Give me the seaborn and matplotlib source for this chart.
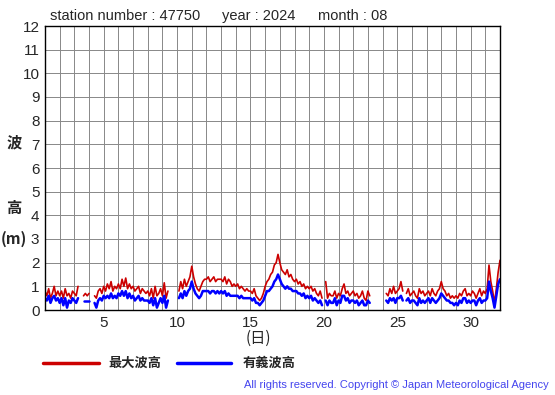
import numpy as np
import pandas as pd
import matplotlib
matplotlib.use("Agg")
import matplotlib.pyplot as plt
import seaborn as sns

nan = np.nan

# 3-hourly wave heights (m), one row per day of August 2024
hmax_rows = [
    [0.8, 0.6, 0.9, 0.5, 0.7, 1.0, 0.6, 0.8],
    [0.6, 0.8, 0.5, 0.9, 0.6, 0.7, 0.5, 0.8],
    [0.7, 0.6, 1.0, nan, nan, 0.6, 0.7, 0.6],
    [0.7, nan, nan, 0.6, 0.5, 0.8, 0.9, 0.7],
    [1.0, 0.8, 1.1, 0.9, 1.2, 0.8, 1.0, 0.9],
    [1.1, 0.9, 1.3, 1.0, 1.35, 0.9, 1.1, 0.9],
    [1.0, 0.8, 0.9, 1.0, 0.7, 0.9, 0.8, 0.7],
    [0.8, 0.6, 0.9, 0.5, 1.0, 0.6, 0.7, 0.9],
    [0.6, 1.15, 0.5, 0.8, nan, 0.6, nan, nan],
    [nan, 0.8, 1.2, 0.9, 1.3, 1.0, 1.2, 1.4],
    [1.85, 1.4, 1.1, 0.9, 0.8, 1.0, 1.2, 1.3],
    [1.3, 1.4, 1.2, 1.3, 1.4, 1.2, 1.3, 1.3],
    [1.3, 1.2, 1.4, 1.1, 1.3, 1.2, 1.0, 1.1],
    [1.0, 1.1, 0.9, 1.0, 0.9, 0.8, 0.9, 0.8],
    [0.8, 0.7, 0.9, 0.6, 0.5, 0.4, 0.5, 0.7],
    [1.0, 1.2, 1.3, 1.5, 1.6, 1.9, 2.0, 2.35],
    [2.0, 1.7, 1.6, 1.5, 1.7, 1.4, 1.5, 1.3],
    [1.2, 1.3, 1.1, 1.2, 1.0, 1.1, 0.9, 1.0],
    [0.9, 1.0, 0.8, 0.9, 0.7, 0.6, 0.8, 0.5],
    [nan, 1.2, 0.5, 0.7, 0.6, 0.6, 0.8, 0.5],
    [0.7, 0.6, 0.9, 1.1, 0.7, 0.8, 0.6, 0.7],
    [0.8, 0.6, 0.7, 0.5, 0.6, 0.8, 0.5, 0.4],
    [0.8, 0.6, nan, nan, nan, nan, nan, nan],
    [nan, nan, 0.7, 0.6, 0.9, 0.7, 1.0, 0.7],
    [0.8, 0.9, 1.2, 0.8, nan, 0.7, 0.9, 0.6],
    [0.7, 0.8, 0.6, 0.5, 0.9, 0.7, 0.8, 0.6],
    [0.7, 0.8, 0.6, 0.9, 0.7, 0.6, 0.8, 0.9],
    [1.2, 0.9, 0.8, 0.6, 0.7, 0.5, 0.6, 0.5],
    [0.6, 0.5, 0.7, 0.6, 0.8, 0.9, 0.6, 0.7],
    [0.6, 0.8, 0.7, 0.5, 0.7, 0.9, 0.6, 0.8],
    [0.7, 0.9, 1.9, 1.2, 0.8, 0.3, 0.9, 1.6],
    [2.1],
]
hsig_rows = [
    [0.5, 0.4, 0.6, 0.3, 0.5, 0.6, 0.4, 0.5],
    [0.3, 0.5, 0.2, 0.5, 0.1, 0.4, 0.3, 0.5],
    [0.4, 0.3, 0.5, nan, nan, 0.4, 0.4, 0.4],
    [0.4, nan, nan, 0.3, 0.1, 0.4, 0.5, 0.4],
    [0.6, 0.5, 0.6, 0.5, 0.7, 0.5, 0.6, 0.5],
    [0.7, 0.6, 0.8, 0.6, 0.8, 0.5, 0.7, 0.5],
    [0.6, 0.4, 0.5, 0.6, 0.4, 0.5, 0.4, 0.4],
    [0.4, 0.3, 0.5, 0.2, 0.5, 0.1, 0.3, 0.5],
    [0.3, 0.6, 0.1, 0.4, nan, 0.3, nan, nan],
    [nan, 0.5, 0.7, 0.5, 0.8, 0.6, 0.8, 0.9],
    [1.2, 0.9, 0.7, 0.6, 0.5, 0.6, 0.8, 0.8],
    [0.8, 0.8, 0.7, 0.8, 0.8, 0.7, 0.8, 0.7],
    [0.8, 0.7, 0.8, 0.6, 0.7, 0.6, 0.6, 0.6],
    [0.6, 0.6, 0.5, 0.6, 0.5, 0.5, 0.5, 0.5],
    [0.5, 0.4, 0.5, 0.3, 0.3, 0.2, 0.3, 0.4],
    [0.6, 0.8, 0.8, 0.9, 1.0, 1.2, 1.3, 1.5],
    [1.3, 1.1, 1.0, 0.9, 1.0, 0.9, 0.9, 0.8],
    [0.8, 0.8, 0.7, 0.7, 0.6, 0.7, 0.5, 0.6],
    [0.5, 0.6, 0.4, 0.5, 0.4, 0.3, 0.4, 0.2],
    [nan, 0.4, 0.2, 0.4, 0.3, 0.3, 0.5, 0.2],
    [0.4, 0.3, 0.6, 0.6, 0.4, 0.5, 0.3, 0.4],
    [0.4, 0.3, 0.4, 0.2, 0.3, 0.4, 0.2, 0.2],
    [0.4, 0.3, nan, nan, nan, nan, nan, nan],
    [nan, nan, 0.4, 0.3, 0.5, 0.4, 0.5, 0.3],
    [0.5, 0.5, 0.6, 0.4, nan, 0.4, 0.5, 0.3],
    [0.4, 0.4, 0.3, 0.2, 0.5, 0.3, 0.4, 0.3],
    [0.4, 0.5, 0.3, 0.5, 0.4, 0.3, 0.4, 0.5],
    [0.7, 0.6, 0.5, 0.4, 0.4, 0.3, 0.3, 0.2],
    [0.3, 0.2, 0.4, 0.3, 0.5, 0.5, 0.3, 0.4],
    [0.3, 0.4, 0.4, 0.2, 0.4, 0.5, 0.3, 0.4],
    [0.4, 0.5, 1.2, 0.8, 0.5, 0.1, 0.6, 1.1],
    [1.3],
]

hmax = np.array([v for row in hmax_rows for v in row])
hsig = np.array([v for row in hsig_rows for v in row])
t = 1 + np.arange(len(hmax)) / 8.0


def to_frame(vals, kind):
    # segment id changes at each gap so lines are not joined across missing data
    seg = np.cumsum(np.isnan(vals))
    d = pd.DataFrame({"t": t, "h": vals, "seg": seg, "kind": kind})
    return d.dropna()


df = pd.concat([to_frame(hmax, "max"), to_frame(hsig, "sig")])

sns.set_style("white")
plt.rcParams["font.family"] = ["Liberation Sans", "DejaVu Sans"]
cjk = ["Noto Sans CJK JP", "DejaVu Sans"]

fig = plt.figure(figsize=(5.55, 3.95), dpi=100)
ax = fig.add_axes([45 / 555, 1 - 310 / 395, 455 / 555, 284 / 395])

sns.lineplot(data=df, x="t", y="h", hue="kind", units="seg", estimator=None,
             palette={"max": "#cc0000", "sig": "#0000ff"},
             hue_order=["max", "sig"], legend=False, ax=ax)
for line in ax.get_lines():
    if line.get_color() == "#0000ff":
        line.set_linewidth(1.8)
    else:
        line.set_linewidth(1.2)

ax.set_xlim(1, 32)
ax.set_ylim(0, 12)
ax.set_xticks(np.arange(1, 33), minor=True)
ax.set_xticks([5, 10, 15, 20, 25, 30])
ax.set_yticks(np.arange(0, 13))
ax.grid(True, which="both", color="#888888", linewidth=0.7)
ax.set_axisbelow(True)
ax.tick_params(axis="both", which="both", length=3, labelsize=11, pad=1, color="black")
ax.tick_params(axis="x", which="minor", length=0)
ax.set_xlabel("")
ax.set_ylabel("")
for s in ax.spines.values():
    s.set_color("black")
    s.set_linewidth(1)

fig.text(50 / 555, 1 - 16 / 395, "station number : 47750", fontsize=10.5, va="center")
fig.text(222 / 555, 1 - 16 / 395, "year : 2024", fontsize=10.5, va="center")
fig.text(318 / 555, 1 - 16 / 395, "month : 08", fontsize=10.5, va="center")

fig.text(14 / 555, 1 - 142 / 395, "波", family=cjk, fontsize=11, ha="center", va="center", weight="bold")
fig.text(14 / 555, 1 - 208 / 395, "高", family=cjk, fontsize=11, ha="center", va="center", weight="bold")
fig.text(14 / 555, 1 - 239 / 395, "(m)", family=cjk, fontsize=11, ha="center", va="center", weight="bold")
fig.text(258 / 555, 1 - 338 / 395, "(日)", family=cjk, fontsize=11, ha="center", va="center")

fig.add_artist(plt.Line2D([43 / 555, 99 / 555], [1 - 363 / 395] * 2, color="#cc0000", linewidth=2.5))
fig.text(108 / 555, 1 - 363 / 395, "最大波高", family=cjk, fontsize=9.5, va="center", weight="bold")
fig.add_artist(plt.Line2D([177 / 555, 231 / 555], [1 - 363 / 395] * 2, color="#0000ff", linewidth=2.5))
fig.text(243 / 555, 1 - 363 / 395, "有義波高", family=cjk, fontsize=9.5, va="center", weight="bold")

fig.text(549 / 555, 1 - 385 / 395, "All rights reserved. Copyright © Japan Meteorological Agency",
         fontsize=8, color="#4444ee", ha="right", va="center")

fig.savefig("out.png", dpi=100)
